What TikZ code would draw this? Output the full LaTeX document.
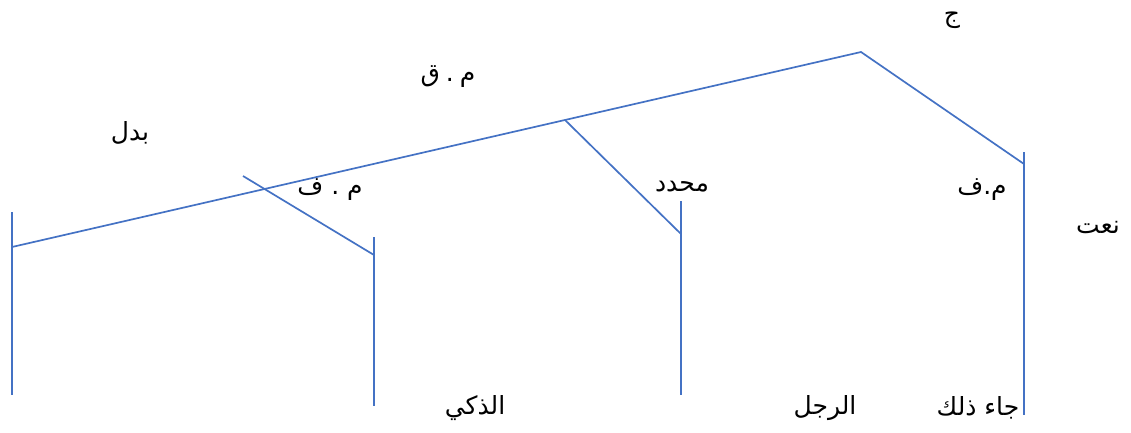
\documentclass[tikz,border=0pt]{standalone}
\usepackage{fontspec}
\newfontfamily\arabicfont[Script=Arabic]{DejaVu Sans}
\TeXXeTstate=1
\begin{document}
\begin{tikzpicture}[x=1pt,y=-1pt]
\definecolor{treeblue}{RGB}{68,114,196}
\tikzset{branch/.style={draw=treeblue, line width=1.7pt},
  lbl/.style={inner sep=0pt, font=\arabicfont\fontsize{25}{30}\selectfont, text=black}}
\useasboundingbox (0,0) rectangle (1131,433);
% coordinates
\coordinate (apex) at (861,52);
\coordinate (rj) at (1024,164);
\coordinate (rtop) at (1024,152);
\coordinate (rbot) at (1024,415);
\coordinate (lj) at (12,247);
\coordinate (ltop) at (12,212);
\coordinate (lbot) at (12,395);
\coordinate (mid) at (565,120);
\coordinate (mj) at (681,234);
\coordinate (mtop) at (681,201);
\coordinate (mbot) at (681,395);
\coordinate (fs) at (243,176);
\coordinate (fj) at (374,255);
\coordinate (ftop) at (374,237);
\coordinate (fbot) at (374,406);
% lines
\draw[branch] (lj) -- (apex) -- (rj);
\draw[branch] (rtop) -- (rbot);
\draw[branch] (ltop) -- (lbot);
\draw[branch] (mid) -- (mj);
\draw[branch] (mtop) -- (mbot);
\draw[branch] (fs) -- (fj);
\draw[branch] (ftop) -- (fbot);
% labels
\node[lbl] (jim) at (952,20) {\beginR ج\endR};
\node[lbl] (mq) at (448,77) {\beginR م\hspace{6pt}.\hspace{6pt}ق\endR};
\node[lbl] (badal) at (130,133) {\beginR بدل\endR};
\node[lbl] (mf1) at (330,190) {\beginR م\hspace{8pt}.\hspace{8pt}ف\endR};
\node[lbl] (muhaddad) at (682,187) {\beginR محدد\endR};
\node[lbl] (mf2) at (982,190) {\beginR م.ف\endR};
\node[lbl] (naat) at (1098,228) {\beginR نعت\endR};
\node[lbl] (dhaki) at (475,408) {\beginR الذكي\endR};
\node[lbl] (rajul) at (825,408) {\beginR الرجل\endR};
\node[lbl] (jaa) at (978,408) {\beginR جاء ذلك\endR};
\end{tikzpicture}
\end{document}
